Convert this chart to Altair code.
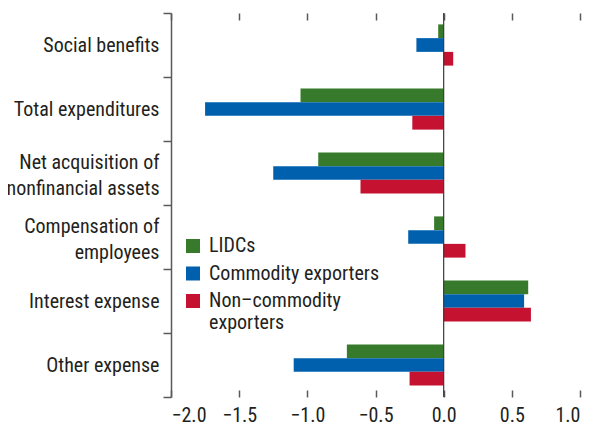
import altair as alt
import pandas as pd

categories = [
    "Social benefits",
    "Total expenditures",
    "Net acquisition of\nnonfinancial assets",
    "Compensation of\nemployees",
    "Interest expense",
    "Other expense",
]
series = ["LIDCs", "Commodity exporters", "Non–commodity\nexporters"]
lidcs = [-0.04, -1.05, -0.92, -0.07, 0.62, -0.71]
commodity = [-0.20, -1.75, -1.25, -0.26, 0.59, -1.10]
noncommodity = [0.07, -0.23, -0.61, 0.16, 0.64, -0.25]
colors = ["#377a2c", "#0060ae", "#c41230"]
x_ticks = [-2.0, -1.5, -1.0, -0.5, 0.0, 0.5, 1.0]
zero_line = [0.0]

rows = []
for s, vals in zip(series, [lidcs, commodity, noncommodity]):
    for c, v in zip(categories, vals):
        rows.append({"category": c, "series": s, "value": v})
df = pd.DataFrame(rows)

FONT = "Roboto Condensed"
TXT = "#231f20"
AX = "#5a5a5a"

xscale = alt.Scale(domain=[-2, 1], nice=False, zero=False)

bars = alt.Chart(df).mark_bar(strokeWidth=0).encode(
    x=alt.X(
        "value:Q",
        scale=xscale,
        axis=alt.Axis(
            orient="bottom", values=x_ticks, format=".1f", offset=-7, tickSize=7,
            tickWidth=1.5, tickColor=AX, domain=False, grid=False, title=None,
            labelFont=FONT, labelFontSize=20, labelColor=TXT, labelPadding=8,
        ),
    ),
    y=alt.Y(
        "category:N",
        sort=categories,
        scale=alt.Scale(paddingInner=0, paddingOuter=0),
        axis=alt.Axis(
            tickBand="extent", labelExpr="split(datum.label, '\\n')",
            title=None, domainColor=AX, domainWidth=1.5, tickColor=AX, tickWidth=1.5,
            tickSize=8, labelFont=FONT, labelFontSize=20, labelColor=TXT,
            labelPadding=4, labelLineHeight=26, labelLimit=300,
            labelOffset={
                "condition": {"test": "indexof(datum.label, '\\n') >= 0", "value": -11},
                "value": 0,
            },
        ),
    ),
    yOffset=alt.YOffset(
        "series:N", sort=series, scale=alt.Scale(paddingInner=0, paddingOuter=0.83)
    ),
    color=alt.Color(
        "series:N",
        sort=series,
        scale=alt.Scale(domain=series, range=colors),
        legend=alt.Legend(
            title=None, orient="none", legendX=12, legendY=223,
            symbolType="square", symbolSize=196, symbolStrokeWidth=0, symbolOpacity=1,
            labelFont=FONT, labelFontSize=20, labelColor=TXT, labelOffset=6,
            labelExpr="split(datum.label, '\\n')",
            rowPadding=7.5, padding=0, labelLimit=300,
        ),
    ),
)

zero = alt.Chart(pd.DataFrame({"v": zero_line})).mark_rule(
    color="#3a3a3a", strokeWidth=1.2
).encode(
    x=alt.X(
        "v:Q",
        scale=xscale,
        axis=alt.Axis(
            orient="top", values=x_ticks, labels=False, offset=-7, tickSize=7,
            tickWidth=1.5, tickColor=AX, domain=False, grid=False, title=None,
        ),
    )
)

chart = (
    alt.layer(bars, zero)
    .resolve_axis(x="independent")
    .properties(
        width=409,
        height=384,
        autosize=alt.AutoSizeParams(type="none"),
        padding={"left": 163, "top": 5, "right": 4, "bottom": 31},
    )
    .configure_view(strokeWidth=0)
)

chart.save("out.html", embed_options={"renderer": "svg", "actions": False})
